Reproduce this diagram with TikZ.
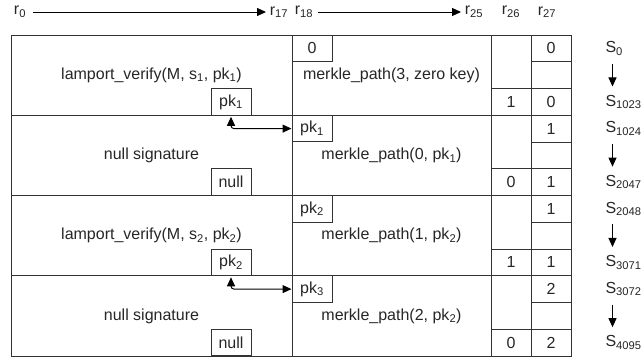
\documentclass[tikz,border=0pt]{standalone}
\usepackage{fontspec}
\setmainfont{Liberation Sans}
\usetikzlibrary{arrows.meta}
\begin{document}
\begin{tikzpicture}[x=1pt,y=-1pt, line width=1pt, draw=black!80,
  every node/.style={font=\fontsize{16}{19}\selectfont, text=black!85},
  sbox/.style={draw=black!80, minimum width=40pt, minimum height=26.75pt, inner sep=0pt},
  val/.style={inner sep=0pt},
  slbl/.style={anchor=west, inner sep=0pt},
  tipk/.tip={Triangle[length=9pt,width=8pt]},
  arr/.style={-tipk, draw=black, fill=black},
  darr/.style={tipk-tipk, draw=black, rounded corners=3pt, shorten <=1pt}]
\useasboundingbox (0,0) rectangle (641,362);

% top register labels
\node (r0)  at (20,12)  {r\textsubscript{0}};
\node (r17) at (279,12) {r\textsubscript{17}};
\node (r18) at (304,12) {r\textsubscript{18}};
\node (r25) at (474,12) {r\textsubscript{25}};
\node (r26) at (511,12) {r\textsubscript{26}};
\node (r27) at (547,12) {r\textsubscript{27}};
\draw[-tipk, draw=black, shorten <=3pt] (r0) -- (r17);
\draw[-tipk, draw=black, shorten <=1pt] (r18) -- (r25);

% table grid
\draw (11,35) rectangle (571,356);
\foreach \x in {292,491,531} \draw (\x,35) -- (\x,356);
\foreach \y in {115.25,195.5,275.75} \draw (11,\y) -- (571,\y);
\foreach \t in {35,115.25,195.5,275.75} {
  \draw (531,\t+26.75) -- (571,\t+26.75);
  \draw (491,\t+53.5) -- (571,\t+53.5);
}

% row 1
\node (lt1) at (151.5,75.1) {lamport\_verify(M, s\textsubscript{1}, pk\textsubscript{1})};
\node[sbox] (lb1) at (231,101.9) {pk\textsubscript{1}};
\node[sbox] (mb1) at (312,48.4) {0};
\node (mt1) at (391.5,75.1) {merkle\_path(3, zero key)};
\node[val] (a1) at (551,48.4) {0};
\node[val] (b1) at (511,101.9) {1};
\node[val] (c1) at (551,101.9) {0};

% row 2
\node (lt2) at (151.5,155.4) {null signature};
\node[sbox] (lb2) at (231,182.1) {null};
\node[sbox] (mb2) at (312,128.6) {pk\textsubscript{1}};
\node (mt2) at (391.5,155.4) {merkle\_path(0, pk\textsubscript{1})};
\node[val] (a2) at (551,128.6) {1};
\node[val] (b2) at (511,182.1) {0};
\node[val] (c2) at (551,182.1) {1};

% row 3
\node (lt3) at (151.5,235.6) {lamport\_verify(M, s\textsubscript{2}, pk\textsubscript{2})};
\node[sbox] (lb3) at (231,262.4) {pk\textsubscript{2}};
\node[sbox] (mb3) at (312,208.9) {pk\textsubscript{2}};
\node (mt3) at (391.5,235.6) {merkle\_path(1, pk\textsubscript{2})};
\node[val] (a3) at (551,208.9) {1};
\node[val] (b3) at (511,262.4) {1};
\node[val] (c3) at (551,262.4) {1};

% row 4
\node (lt4) at (151.5,315.9) {null signature};
\node[sbox] (lb4) at (231,342.6) {null};
\node[sbox] (mb4) at (312,289.1) {pk\textsubscript{3}};
\node (mt4) at (391.5,315.9) {merkle\_path(2, pk\textsubscript{2})};
\node[val] (a4) at (551,289.1) {2};
\node[val] (b4) at (511,342.6) {0};
\node[val] (c4) at (551,342.6) {2};

% key hand-over connectors
\draw[darr] (lb1.south) |- (mb2.west);
\draw[darr] (lb3.south) |- (mb4.west);

% state labels
\node[slbl] (s0)    at (605,48.4)  {S\textsubscript{0}};
\node[slbl] (s1023) at (605,101.9) {S\textsubscript{1023}};
\node[slbl] (s1024) at (605,128.6) {S\textsubscript{1024}};
\node[slbl] (s2047) at (605,182.1) {S\textsubscript{2047}};
\node[slbl] (s2048) at (605,208.9) {S\textsubscript{2048}};
\node[slbl] (s3071) at (605,262.4) {S\textsubscript{3071}};
\node[slbl] (s3072) at (605,289.1) {S\textsubscript{3072}};
\node[slbl] (s4095) at (605,342.6) {S\textsubscript{4095}};
\draw[-tipk, draw=black] ([xshift=7.5pt,yshift=-8pt]s0.south west) -- ([xshift=7.5pt,yshift=8pt]s1023.north west);
\draw[-tipk, draw=black] ([xshift=7.5pt,yshift=-8pt]s1024.south west) -- ([xshift=7.5pt,yshift=8pt]s2047.north west);
\draw[-tipk, draw=black] ([xshift=7.5pt,yshift=-8pt]s2048.south west) -- ([xshift=7.5pt,yshift=8pt]s3071.north west);
\draw[-tipk, draw=black] ([xshift=7.5pt,yshift=-8pt]s3072.south west) -- ([xshift=7.5pt,yshift=8pt]s4095.north west);
\end{tikzpicture}
\end{document}
